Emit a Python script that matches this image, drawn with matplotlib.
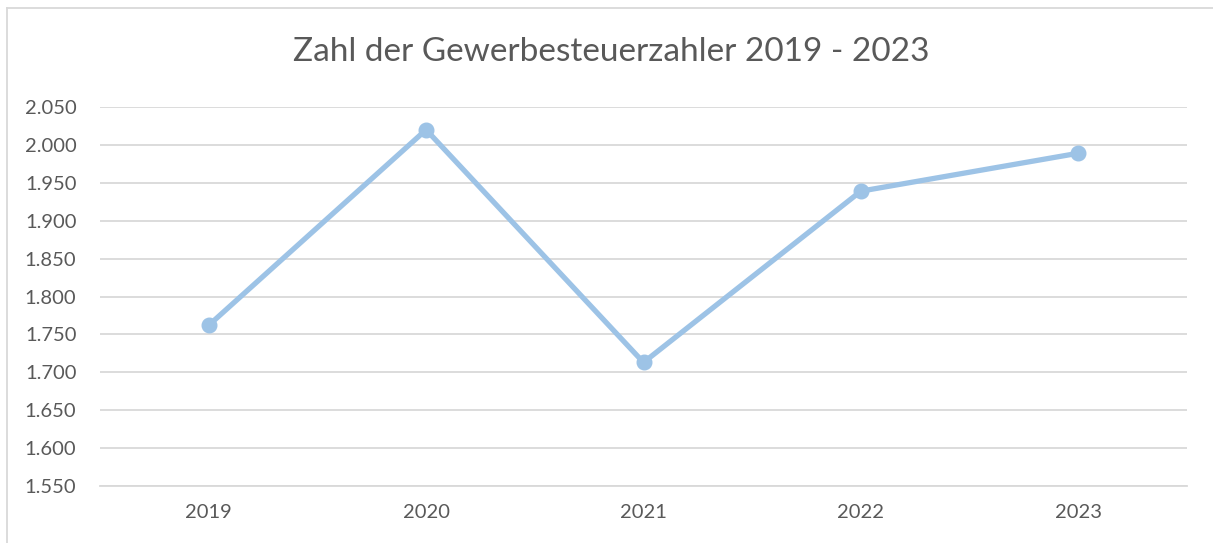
import matplotlib.pyplot as plt
from matplotlib.lines import Line2D
from matplotlib.ticker import FuncFormatter

years = ["2019", "2020", "2021", "2022", "2023"]
zahler = [1762, 2020, 1713, 1939, 1989]
title = "Zahl der Gewerbesteuerzahler 2019 - 2023"

plt.rcParams['font.family'] = ['Lato', 'DejaVu Sans']

fig = plt.figure(figsize=(12.13, 5.43), dpi=100)
ax = fig.add_axes([100 / 1213, 1 - 486 / 543, 1087 / 1213, 379 / 543])

x = list(range(len(years)))
ax.plot(x, zahler, color='#9DC3E6', linewidth=3.8, marker='o', markersize=10.5,
        solid_capstyle='round', zorder=3)

ax.set_xlim(-0.5, len(years) - 0.5)
ax.set_ylim(1550, 2050)
ax.set_yticks(range(1550, 2051, 50))
ax.yaxis.set_major_formatter(FuncFormatter(lambda v, p: f"{int(v):,}".replace(",", ".")))
ax.set_xticks(x)
ax.set_xticklabels(years)

ax.grid(axis='y', color='#D9D9D9', linewidth=1.3)
ax.set_axisbelow(True)
for s in ['top', 'right', 'left']:
    ax.spines[s].set_visible(False)
ax.spines['bottom'].set_color('#D9D9D9')
ax.spines['bottom'].set_linewidth(1.3)
ax.tick_params(axis='both', length=0, colors='#595959', labelsize=14.5)
ax.tick_params(axis='y', pad=17)
ax.tick_params(axis='x', pad=13)

fig.text(611 / 1213, 1 - 52 / 543, title, ha='center', va='center',
         fontsize=24, color='#595959')

# chart frame (only top and left visible in the crop)
fig.add_artist(Line2D([7 / 1213, 1], [1 - 8 / 543, 1 - 8 / 543], color='#D9D9D9', linewidth=1.3))
fig.add_artist(Line2D([7 / 1213, 7 / 1213], [0, 1 - 8 / 543], color='#D9D9D9', linewidth=1.3))

fig.savefig('out.png', dpi=100)
